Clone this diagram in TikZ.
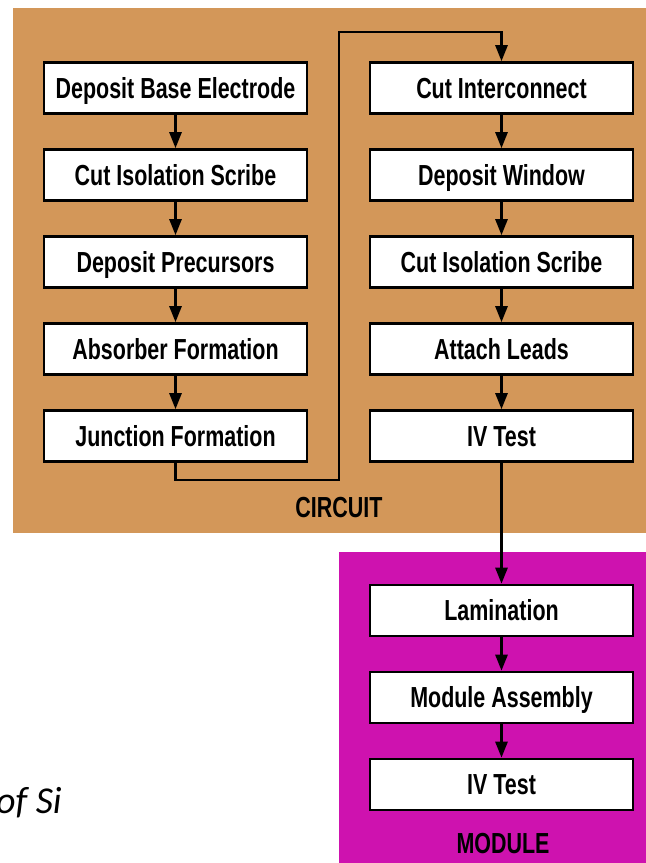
\documentclass[tikz,border=0pt]{standalone}
\usepackage{fontspec}
\setmainfont{Liberation Sans}[FakeStretch=0.74]
\newfontfamily\notefont{Carlito}
\usetikzlibrary{arrows.meta}
\definecolor{circuitbg}{RGB}{211,151,89}
\definecolor{modulebg}{RGB}{206,18,175}

\begin{document}
\begin{tikzpicture}[->,>={Triangle[length=8pt,width=6pt]},line width=1.3pt,
    x=0.5pt,y=-0.5pt,node distance=43.5pt,
    proc/.style={draw,fill=white,minimum width=131.5pt,minimum height=25.5pt,
      inner sep=0pt,text height=10.4pt,text depth=0pt,
      font=\fontsize{14.5}{16}\selectfont\bfseries},
    grp/.style={text height=10.4pt,text depth=0pt,
      font=\fontsize{14.5}{16}\selectfont\bfseries}]

  \useasboundingbox (0,0) rectangle (646,863);
  \fill[circuitbg] (13,7.5) rectangle (646,533);
  \fill[modulebg] (339,552) rectangle (646,863);

  \node[proc] (1) at (175.5,88) {Deposit Base Electrode};
  \node[proc] (2) [below of=1] {Cut Isolation Scribe};
  \node[proc] (3) [below of=2] {Deposit Precursors};
  \node[proc] (4) [below of=3] {Absorber Formation};
  \node[proc] (5) [below of=4] {Junction Formation};
  \node[proc] (6) [right of=1, node distance=163pt] {Cut Interconnect};
  \node[proc] (7) [below of=6] {Deposit Window};
  \node[proc] (8) [below of=7] {Cut Isolation Scribe};
  \node[proc] (9) [below of=8] {Attach Leads};
  \node[proc] (10) [below of=9] {IV Test};
  \node[proc] (11) [below of=10, node distance=87.25pt] {Lamination};
  \node[proc] (12) [below of=11] {Module Assembly};
  \node[proc] (13) [below of=12] {IV Test};

  \node[grp] (circuit) at (339,507) {CIRCUIT};
  \node[grp] (module) at (503,843) {MODULE};
  \node[font=\notefont\itshape\fontsize{19}{22}\selectfont,anchor=base east,
    inner sep=0pt] (note) at (63,813) {of Si};

  \coordinate (bend) at (339,480);
  \coordinate (top) at (339,32);

  \draw
  (1) edge (2)
  (2) edge (3)
  (3) edge (4)
  (4) edge (5)
  (6) edge (7)
  (7) edge (8)
  (8) edge (9)
  (9) edge (10)
  (10) edge (11)
  (11) edge (12)
  (12) edge (13);
  \draw (5.south) |- (bend) -- (top) -| (6.north);

\end{tikzpicture}
\end{document}
